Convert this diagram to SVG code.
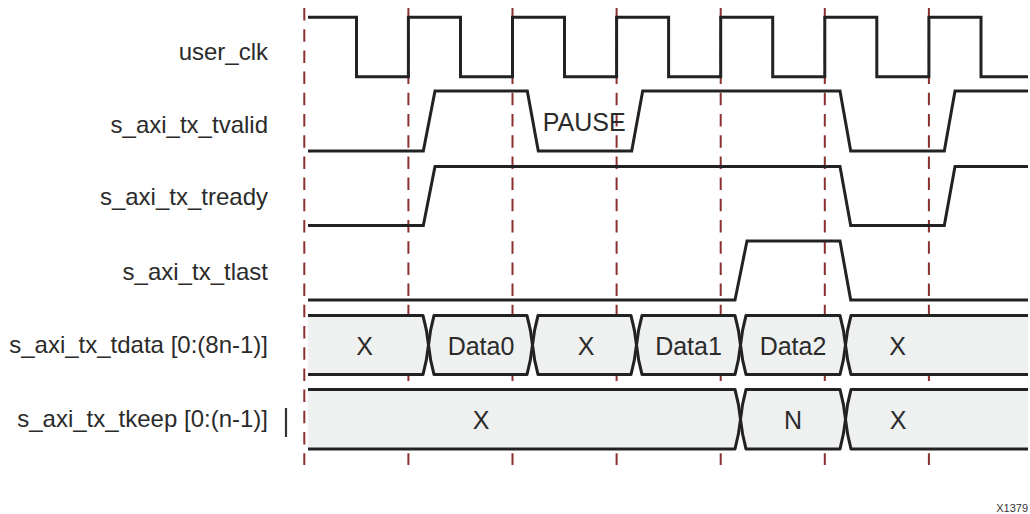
<svg xmlns="http://www.w3.org/2000/svg" width="1030" height="514" viewBox="0 0 1030 514">
<style>
.lbl{font-family:"Liberation Sans",Arial,sans-serif;font-size:24px;fill:#2b2b2b;text-anchor:end}
.bl{font-family:"Liberation Sans",Arial,sans-serif;font-size:25px;fill:#2b2b2b;text-anchor:middle}
.sig{fill:none;stroke:#222;stroke-width:3;stroke-linejoin:miter}
.bus{fill:#eff0f0;stroke:none}
.busl{fill:none;stroke:#222;stroke-width:3;stroke-linejoin:round}
.guide{stroke:#8b2f2f;stroke-width:2;stroke-dasharray:12.5 8.7}
</style>
<rect width="1030" height="514" fill="#fff"/>
<g id="labels">
<text class="lbl" x="268" y="60">user_clk</text>
<text class="lbl" x="268" y="133">s_axi_tx_tvalid</text>
<text class="lbl" x="268" y="205">s_axi_tx_tready</text>
<text class="lbl" x="268" y="280">s_axi_tx_tlast</text>
<text class="lbl" x="268" y="353">s_axi_tx_tdata [0:(8n-1)]</text>
<text class="lbl" x="268" y="427">s_axi_tx_tkeep [0:(n-1)]</text>
<line x1="286" y1="408" x2="286" y2="437" stroke="#333" stroke-width="2.2"/>
</g>
<g id="connectors">
<line class="guide" x1="304.3" y1="8" x2="304.3" y2="465"/>
<line class="guide" x1="408.4" y1="8" x2="408.4" y2="465"/>
<line class="guide" x1="512.5" y1="8" x2="512.5" y2="465"/>
<line class="guide" x1="616.6" y1="8" x2="616.6" y2="465"/>
<line class="guide" x1="720.7" y1="8" x2="720.7" y2="465"/>
<line class="guide" x1="824.8" y1="8" x2="824.8" y2="465"/>
<line class="guide" x1="928.9" y1="8" x2="928.9" y2="465"/>
</g>
<g id="user_clk">
<path class="sig" d="M308,17.3 H356.5 V76.7 H408.4 V17.3 H460.5 V76.7 H512.5 V17.3 H564.5 V76.7 H616.6 V17.3 H668.6 V76.7 H720.7 V17.3 H772.7 V76.7 H824.8 V17.3 H876.8 V76.7 H928.9 V17.3 H981 V76.7 H1028"/>
</g>
<g id="s_axi_tx_tvalid">
<path class="sig" d="M308,151 H423.3 L435,91 H527.3 L538.3,151 H631.7 L642.7,91 H840 L850.7,151 H944.3 L955,91 H1028"/>
<text class="bl" x="542.7" y="131" style="text-anchor:start">PAUSE</text>
</g>
<g id="s_axi_tx_tready">
<path class="sig" d="M308,225.5 H423.3 L435,166.5 H840 L850.7,225.5 H944.3 L955,166.5 H1028"/>
</g>
<g id="s_axi_tx_tlast">
<path class="sig" d="M308,300 H735 L747,241 H840 L850.7,300 H1028"/>
</g>
<g id="s_axi_tx_tdata">
<path class="bus" d="M308,315.5 H423 Q427,330 428.5,345 Q427,360 423,374.5 H308 Z"/>
<path class="busl" d="M308,315.5 H423 Q427,330 428.5,345 Q427,360 423,374.5 H308"/>
<path class="bus" d="M434,315.5 H527 Q531,330 532.5,345 Q531,360 527,374.5 H434 Q430,360 428.5,345 Q430,330 434,315.5 Z"/>
<path class="busl" d="M434,315.5 H527 Q531,330 532.5,345 Q531,360 527,374.5 H434 Q430,360 428.5,345 Q430,330 434,315.5 Z"/>
<path class="bus" d="M538,315.5 H631 Q635,330 636.5,345 Q635,360 631,374.5 H538 Q534,360 532.5,345 Q534,330 538,315.5 Z"/>
<path class="busl" d="M538,315.5 H631 Q635,330 636.5,345 Q635,360 631,374.5 H538 Q534,360 532.5,345 Q534,330 538,315.5 Z"/>
<path class="bus" d="M642,315.5 H735 Q739,330 740.5,345 Q739,360 735,374.5 H642 Q638,360 636.5,345 Q638,330 642,315.5 Z"/>
<path class="busl" d="M642,315.5 H735 Q739,330 740.5,345 Q739,360 735,374.5 H642 Q638,360 636.5,345 Q638,330 642,315.5 Z"/>
<path class="bus" d="M746,315.5 H840 Q844,330 845.5,345 Q844,360 840,374.5 H746 Q742,360 740.5,345 Q742,330 746,315.5 Z"/>
<path class="busl" d="M746,315.5 H840 Q844,330 845.5,345 Q844,360 840,374.5 H746 Q742,360 740.5,345 Q742,330 746,315.5 Z"/>
<path class="bus" d="M1028,315.5 H851 Q847,330 845.5,345 Q847,360 851,374.5 H1028 Z"/>
<path class="busl" d="M1028,315.5 H851 Q847,330 845.5,345 Q847,360 851,374.5 H1028"/>
<text class="bl" x="364.5" y="355">X</text>
<text class="bl" x="481" y="355">Data0</text>
<text class="bl" x="586" y="355">X</text>
<text class="bl" x="688.5" y="355">Data1</text>
<text class="bl" x="793" y="355">Data2</text>
<text class="bl" x="897.5" y="355">X</text>
</g>
<g id="s_axi_tx_tkeep">
<path class="bus" d="M308,389.5 H735 Q739,404 740.5,419.3 Q739,434 735,449 H308 Z"/>
<path class="busl" d="M308,389.5 H735 Q739,404 740.5,419.3 Q739,434 735,449 H308"/>
<path class="bus" d="M746,389.5 H840 Q844,404 845.5,419.3 Q844,434 840,449 H746 Q742,434 740.5,419.3 Q742,404 746,389.5 Z"/>
<path class="busl" d="M746,389.5 H840 Q844,404 845.5,419.3 Q844,434 840,449 H746 Q742,434 740.5,419.3 Q742,404 746,389.5 Z"/>
<path class="bus" d="M1028,389.5 H851 Q847,404 845.5,419.3 Q847,434 851,449 H1028 Z"/>
<path class="busl" d="M1028,389.5 H851 Q847,404 845.5,419.3 Q847,434 851,449 H1028"/>
<text class="bl" x="481" y="429">X</text>
<text class="bl" x="793" y="429">N</text>
<text class="bl" x="898" y="429">X</text>
</g>
<text x="1028" y="512" font-family="'Liberation Sans',Arial,sans-serif" font-size="11" fill="#333" text-anchor="end">X1379</text>
</svg>
